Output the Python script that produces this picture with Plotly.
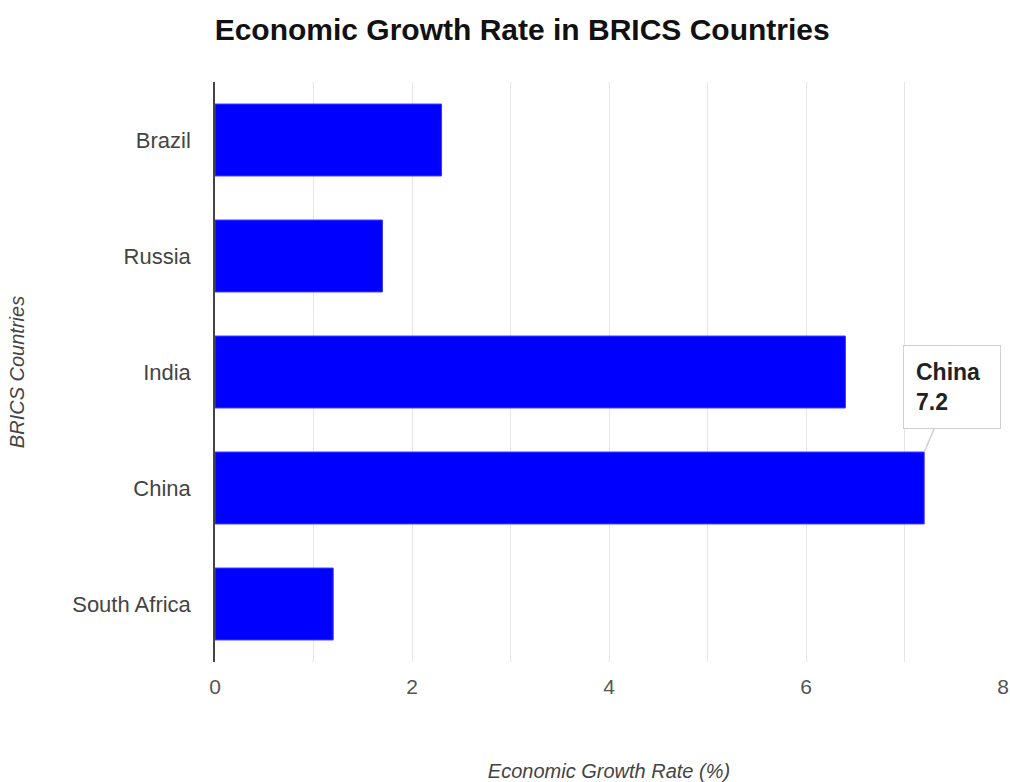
import plotly.graph_objects as go

countries = ["Brazil", "Russia", "India", "China", "South Africa"]
growth = [2.3, 1.7, 6.4, 7.2, 1.2]
x_ticks = [0, 2, 4, 6, 8]

bar_width = 0.62
hl = countries.index("China")

fig = go.Figure(go.Bar(
    x=growth, y=countries, orientation="h",
    marker=dict(color="#0000FF", line=dict(color="#3a3aff", width=1)),
    width=bar_width,
))

fig.update_layout(
    width=1010, height=782,
    margin=dict(l=215, r=7, t=82, b=120),
    paper_bgcolor="white", plot_bgcolor="white",
    font=dict(family="Liberation Sans, Arial, sans-serif", color="#444"),
    showlegend=False,
    title=dict(text="<b>Economic Growth Rate in BRICS Countries</b>",
               x=0.517, xanchor="center", y=0.962, yanchor="middle",
               font=dict(size=30, color="#111")),
    xaxis=dict(range=[0, 8], tickvals=x_ticks, ticktext=[str(v) for v in x_ticks],
               automargin=False,
               showgrid=True, gridcolor="#e6e6e6", gridwidth=1,
               minor=dict(dtick=1, showgrid=True, gridcolor="#e6e6e6", gridwidth=1),
               zeroline=False, showline=False,
               ticks="outside", ticklen=6, tickcolor="rgba(0,0,0,0)",
               tickfont=dict(size=21, color="#555"),
               title=dict(text="<i>Economic Growth Rate (%)</i>", standoff=70,
                          font=dict(size=20, color="#444"))),
    yaxis=dict(categoryorder="array", categoryarray=countries, autorange="reversed",
               automargin=False,
               showline=True, linecolor="#444", linewidth=1.5,
               ticks="outside", ticklen=18, tickcolor="rgba(0,0,0,0)",
               showgrid=False,
               tickfont=dict(size=22, color="#444"),
               title=dict(text="<i>BRICS Countries</i>", standoff=42,
                          font=dict(size=20, color="#444"))),
)

fig.add_annotation(
    x=growth[hl], y=hl - bar_width / 2, xref="x", yref="y",
    text=f"<b>{countries[hl]}<br>{growth[hl]}</b>",
    align="left", showarrow=True, arrowhead=0, arrowwidth=1.5, arrowcolor="#d0d0d0",
    ax=28, ay=-65, width=72, height=58, borderpad=12,
    bordercolor="#d0d0d0", borderwidth=1, bgcolor="white",
    font=dict(size=23, color="#222", family="Liberation Sans, Arial, sans-serif"),
)

fig.write_html("out.html")
